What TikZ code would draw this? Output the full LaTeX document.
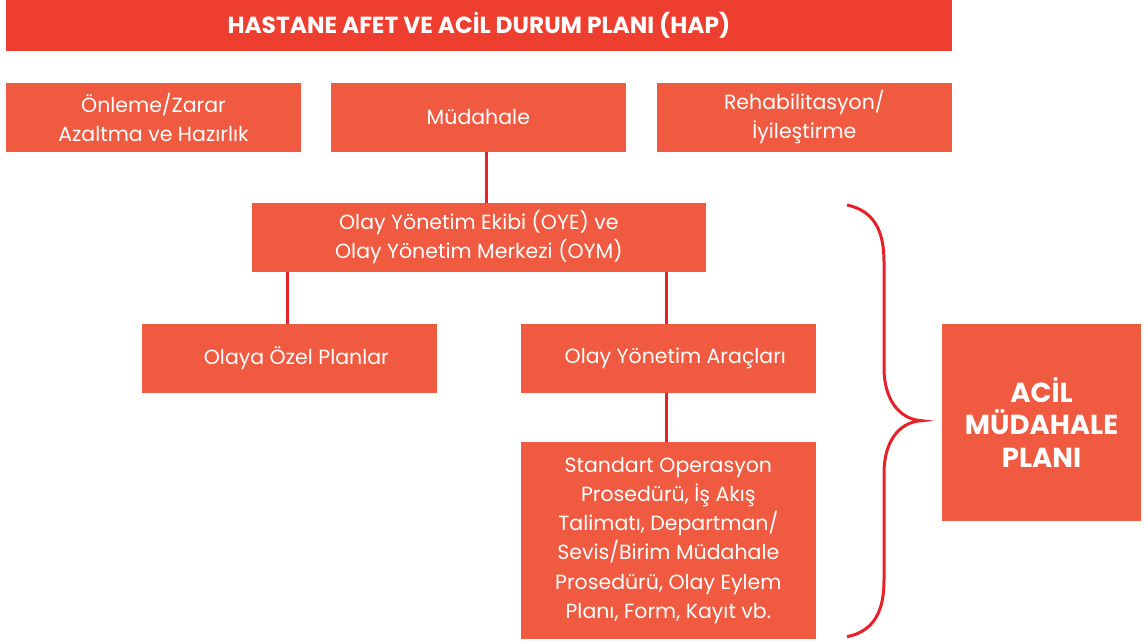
\documentclass[tikz,border=0pt]{standalone}
\usepackage{fontspec}
\setmainfont{Poppins}
\definecolor{titlered}{HTML}{EE3E2F}
\definecolor{boxred}{HTML}{F05A40}
\definecolor{linered}{HTML}{E8202A}
\begin{document}
\begin{tikzpicture}[x=1pt,y=-1pt,
  box/.style={fill=boxred, text=white, inner sep=0pt, align=center, font=\fontsize{20.5}{29.3}\selectfont},
  conn/.style={draw=linered, line width=3pt},
  brace/.style={draw=linered, line width=3pt}]
\useasboundingbox (0,0) rectangle (1146,643);
\node[fill=titlered, text=white, minimum width=945.7pt, minimum height=50.7pt, inner sep=0pt, font=\bfseries\fontsize{23.3}{26}\selectfont] (title) at (478.85,25.35) {HASTANE AFET VE ACİL DURUM PLANI (HAP)};
\node[box, minimum width=295pt, minimum height=68.7pt] (b1) at (153.5,117.35) {Önleme/Zarar\\Azaltma ve Hazırlık};
\node[box, minimum width=294.7pt, minimum height=68.7pt] (b2) at (478.35,117.35) {Müdahale};
\node[box, minimum width=294.7pt, minimum height=68.7pt] (b3) at (804.35,117.35) {Rehabilitasyon/\\İyileştirme};
\node[box, minimum width=453.7pt, minimum height=68.7pt] (oye) at (478.85,237.35) {Olay Yönetim Ekibi (OYE) ve\\Olay Yönetim Merkezi (OYM)};
\node[box, minimum width=294.7pt, minimum height=68.7pt] (ozel) at (289.35,358.35) {\hspace*{14pt}Olaya Özel Planlar};
\node[box, minimum width=294.7pt, minimum height=68.7pt] (arac) at (668.35,358.35) {\hspace*{14pt}Olay Yönetim Araçları};
\node[box, minimum width=294.7pt, minimum height=196.7pt] (std) at (668.35,540.35) {Standart Operasyon\\Prosedürü, İş Akış\\Talimatı, Departman/\\Sevis/Birim Müdahale\\Prosedürü, Olay Eylem\\Planı, Form, Kayıt vb.};
\node[box, minimum width=199pt, minimum height=196.7pt, font=\bfseries\fontsize{27.5}{32.7}\selectfont] (acil) at (1041.5,422.35) {ACİL\\MÜDAHALE\\PLANI};
\draw[conn] ([xshift=7.65pt]b2.south) -- ([xshift=7.65pt]b2.south |- oye.north);
\draw[conn] ([xshift=-1.6pt]ozel.north) -- ([xshift=-1.6pt]ozel.north |- oye.south);
\draw[conn] ([xshift=-1.6pt]arac.north) -- ([xshift=-1.6pt]arac.north |- oye.south);
\draw[conn] ([xshift=-1.6pt]std.north) -- ([xshift=-1.6pt]arac.south);
\coordinate (btop) at (847,205);
\coordinate (btip) at (921.5,420.7);
\coordinate (bbot) at (847,636.7);
\draw[brace] (btop) .. controls (875,211) and (884,232) .. (884,262)
  -- (884,368) .. controls (884,398) and (898,419) .. (btip)
  .. controls (898,422) and (884,443) .. (884,473)
  -- (884,580) .. controls (884,610) and (875,631) .. (bbot);
\end{tikzpicture}
\end{document}
